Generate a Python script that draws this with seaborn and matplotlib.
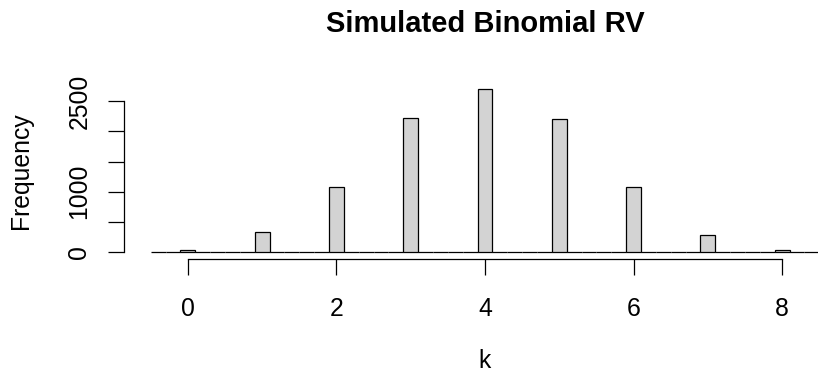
import numpy as np
import pandas as pd
import matplotlib.pyplot as plt
import seaborn as sns

# counts
k = [0, 1, 2, 3, 4, 5, 6, 7, 8]
freq = [33, 327, 1084, 2229, 2699, 2207, 1078, 287, 33]
breaks = list(np.round(np.arange(-0.5, 8.51, 0.2), 2))
y_ticks = [0, 500, 1000, 1500, 2000, 2500]
y_labels = ["0", "", "1000", "", "", "2500"]
x_ticks = [0, 2, 4, 6, 8]

df = pd.DataFrame({"k": k, "freq": freq})

sns.set_style("ticks")
plt.rcParams['font.family'] = ['Liberation Sans', 'DejaVu Sans']
plt.rcParams['text.color'] = 'black'
plt.rcParams['axes.labelcolor'] = 'black'
plt.rcParams['xtick.color'] = 'black'
plt.rcParams['ytick.color'] = 'black'

fig = plt.figure(figsize=(8.18, 3.75), dpi=100)
ax = fig.add_axes([124 / 818, (375 - 258.6) / 375, 722 / 818, 175.8 / 375])

sns.histplot(data=df, x="k", weights="freq", bins=breaks, color="#D3D3D3",
             edgecolor="black", linewidth=0.9, alpha=1, ax=ax)

ax.set_xlim(-0.86, 8.86)
ax.set_ylim(-108, 2807)
for s in ["top", "right"]:
    ax.spines[s].set_visible(False)
ax.spines["left"].set_bounds(0, 2500)
ax.spines["bottom"].set_bounds(0, 8)
for s in ["left", "bottom"]:
    ax.spines[s].set_linewidth(0.9)
    ax.spines[s].set_color("black")

ax.set_xticks(x_ticks)
ax.set_yticks(y_ticks)
ax.set_yticklabels(y_labels, rotation=90, va="center")
ax.tick_params(axis="both", length=11.5, width=0.9, color="black", labelsize=17.8)
ax.tick_params(axis="x", pad=16)
ax.tick_params(axis="y", pad=12)

ax.set_xlabel("k", fontsize=17.8)
ax.set_ylabel("Frequency", fontsize=17.8, va="center")
ax.xaxis.set_label_coords(0.5, -0.515)
ax.yaxis.set_label_coords(-0.142, 0.5)
ax.set_title("Simulated Binomial RV", fontsize=21, fontweight="bold", y=1.29, pad=0)

fig.savefig("out.png", dpi=100)
